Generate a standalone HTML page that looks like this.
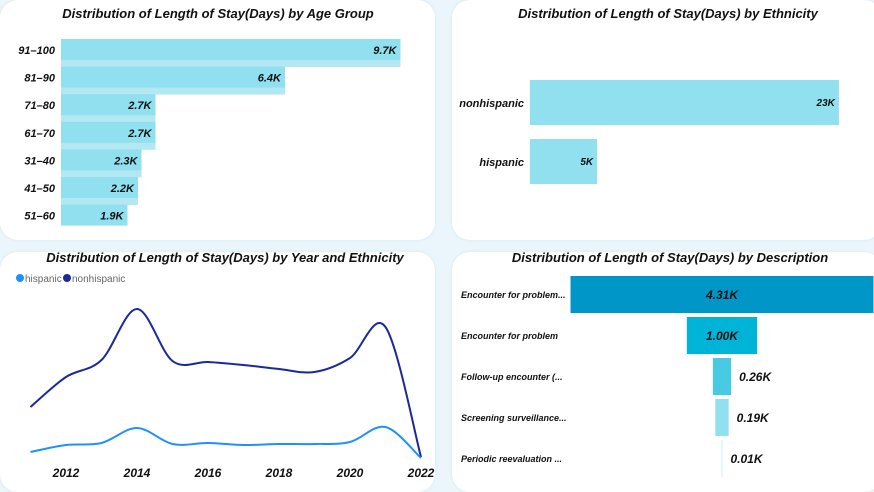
<!DOCTYPE html>
<html><head><meta charset="utf-8"><style>
body{margin:0;width:874px;height:483px;background:#eaf6fb;font-family:"Liberation Sans",sans-serif;overflow:hidden;position:relative}
.panel{position:absolute;background:#fff;border-radius:18px;box-shadow:0 0 3px #d8e6ee}
svg{position:absolute;left:0;top:0}
text{font-family:"Liberation Sans",sans-serif}
.t{font-weight:bold;font-style:italic;font-size:13px;fill:#111}
.l{font-weight:bold;font-style:italic;font-size:11px;fill:#111}
</style></head><body>
<div class="panel" style="left:0;top:0;width:435px;height:240px"></div>
<div class="panel" style="left:452;top:0;left:452px;width:430px;height:240px"></div>
<div class="panel" style="left:0;top:252px;width:435px;height:240px"></div>
<div class="panel" style="left:452px;top:252px;width:430px;height:240px"></div>
<svg id="s" width="874" height="483">
<text class="t" x="218" y="18" text-anchor="middle">Distribution of Length of Stay(Days) by Age Group</text>
<text class="t" x="668" y="18" text-anchor="middle">Distribution of Length of Stay(Days) by Ethnicity</text>
<text class="t" x="225" y="262" text-anchor="middle">Distribution of Length of Stay(Days) by Year and Ethnicity</text>
<text class="t" x="670" y="262" text-anchor="middle">Distribution of Length of Stay(Days) by Description</text>
<circle cx="20" cy="278" r="4" fill="#1e90ff"/>
<text x="25" y="282" font-size="10" fill="#666">hispanic</text>
<circle cx="67" cy="278" r="4" fill="#1a2a9c"/>
<text x="72" y="282" font-size="10" fill="#666">nonhispanic</text>
</svg>
<script>
const ageCats=["91-100","81-90","71-80","61-70","31-40","41-50","51-60"];
const ageVals=[9.7,6.4,2.7,2.7,2.3,2.2,1.9];
const ageLabels=["9.7K","6.4K","2.7K","2.7K","2.3K","2.2K","1.9K"];
const ethCats=["nonhispanic","hispanic"];
const ethVals=[23,5];
const ethLabels=["23K","5K"];
const years=[2011,2012,2013,2014,2015,2016,2017,2018,2019,2020,2021,2022];
const nonhisVals=[1060,1660,2000,3020,1980,1960,1900,1820,1760,2040,2660,60];
const hisVals=[160,300,340,640,320,340,300,320,320,360,660,40];
const yearTicks=[2012,2014,2016,2018,2020,2022];
const descCats=["Encounter for problem...","Encounter for problem","Follow-up encounter (...","Screening surveillance...","Periodic reevaluation ..."];
const descVals=[4.31,1.00,0.26,0.19,0.01];
const descLabels=["4.31K","1.00K","0.26K","0.19K","0.01K"];
const descColors=["#0096c7","#00b4d8","#48cae4","#90e0ef","#caf0f8"];
const s=document.getElementById('s');const NS="http://www.w3.org/2000/svg";
function el(t,a,txt){const e=document.createElementNS(NS,t);for(const k in a)e.setAttribute(k,a[k]);if(txt!==undefined)e.textContent=txt;s.appendChild(e);return e;}
// age
const ax=v=>61+v*35, ay=i=>39+i*27.6;
ageVals.forEach((v,i)=>{
 if(i<ageVals.length-1){const c=el('rect',{x:61,y:ay(i)+20,width:ax(v)-61,height:8,fill:'#b3e8f3'});
 
 }
 const r=el('rect',{x:61,y:ay(i),width:ax(v)-61,height:21,fill:'#90e0ef'});
 
 
 const t=el('text',{x:ax(v)-4,y:ay(i)+15,'text-anchor':'end',class:'l'},ageLabels[i]);
 
 
 const c=el('text',{x:55,y:ay(i)+15,'text-anchor':'end',class:'l'},ageCats[i].replace('-','–'));
 
 
});
// ethnicity
const ex=v=>530+v*13.43, ey=i=>80+i*59;
ethVals.forEach((v,i)=>{
 const r=el('rect',{x:530,y:ey(i),width:ex(v)-530,height:45,fill:'#90e0ef'});
 
 
 const t=el('text',{x:ex(v)-4,y:ey(i)+26,'text-anchor':'end',class:'l',style:'font-size:10px'},ethLabels[i]);
 
 
 const c=el('text',{x:524,y:ey(i)+27,'text-anchor':'end',class:'l'},ethCats[i]);
 
 
});
// lines
const lx=y=>30.5+(y-2011)*35.5, ly=v=>460-v/20;
function smooth(vals){const p=vals.map((v,i)=>[lx(years[i]),ly(v)]);let d='M'+p[0];
 for(let i=0;i<p.length-1;i++){const p0=p[i-1]||p[i],p1=p[i],p2=p[i+1],p3=p[i+2]||p2;
 const c1=[p1[0]+(p2[0]-p0[0])/6,p1[1]+(p2[1]-p0[1])/6],c2=[p2[0]-(p3[0]-p1[0])/6,p2[1]-(p3[1]-p1[1])/6];
 d+=' C'+c1+' '+c2+' '+p2;}return d;}
const l1=el('path',{d:smooth(nonhisVals),fill:'none',stroke:'#1a2a9c','stroke-width':2});


const l2=el('path',{d:smooth(hisVals),fill:'none',stroke:'#1e90ff','stroke-width':2});


yearTicks.forEach(y=>{const t=el('text',{x:lx(y),y:477,'text-anchor':'middle',class:'l',style:'font-size:12px'},y);
 
 });
// description funnel
const dw=v=>v*70.3, dy=i=>276+i*41, cx=722;
descVals.forEach((v,i)=>{
 const w=Math.max(dw(v),1);
 const r=el('rect',{x:cx-w/2,y:dy(i),width:w,height:37,fill:descColors[i]});
 
 
 const inside=w>50;
 const t=el('text',{x:inside?cx:cx+w/2+8,y:dy(i)+23,'text-anchor':inside?'middle':'start',class:'l',style:'font-size:12px'},descLabels[i]);
 
 
 const c=el('text',{x:461,y:dy(i)+22,class:'l',style:'font-size:9px'},descCats[i]);
 
 
});
</script>
</body></html>
